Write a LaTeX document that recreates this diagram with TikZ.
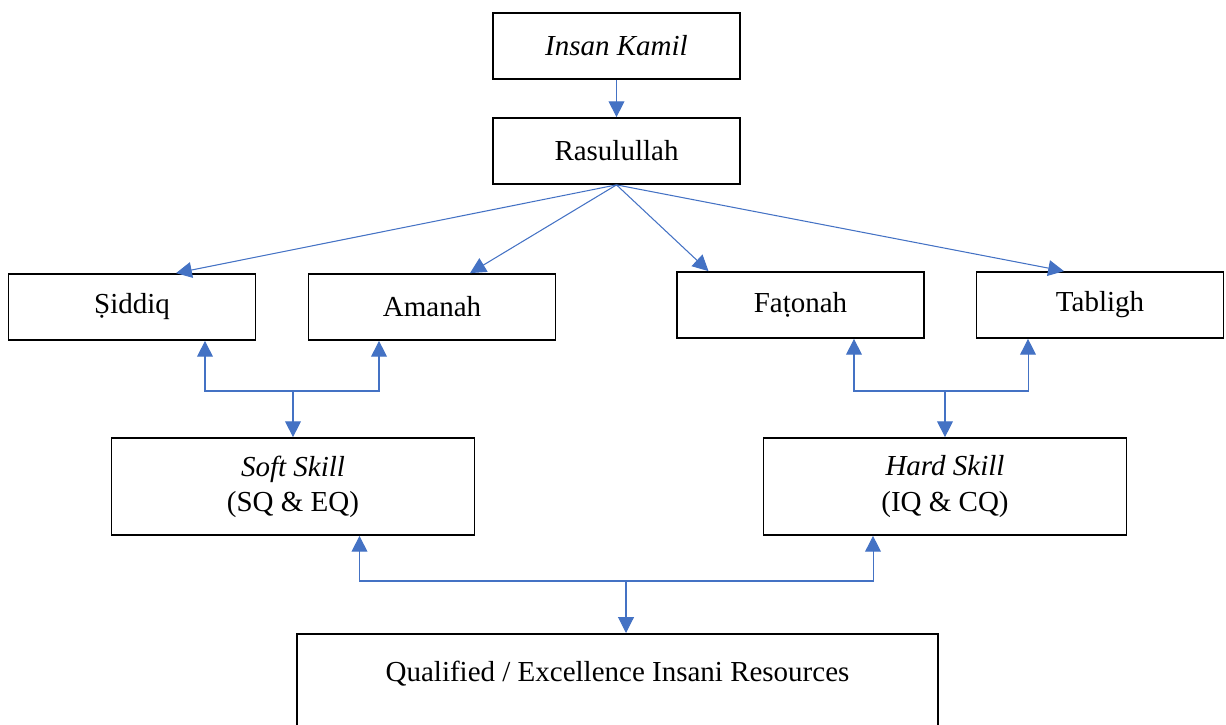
\documentclass[tikz,border=0pt]{standalone}
\usepackage{fontspec}
\setmainfont{Liberation Serif}
\usetikzlibrary{arrows.meta}
\definecolor{linkblue}{RGB}{68,114,196}

\begin{document}
\begin{tikzpicture}[x=0.02cm,y=-0.02cm,
        box/.style={draw,line width=1pt,align=center,font=\fontsize{16.5}{20}\selectfont},
        small/.style={box,minimum width=4.94cm,minimum height=1.32cm},
        skill/.style={box,minimum width=7.26cm,minimum height=1.94cm},
        link/.style={draw=linkblue,line width=0.6pt,-{Triangle[length=9pt,width=9pt]}},
        twolink/.style={draw=linkblue,line width=0.6pt,{Triangle[length=9pt,width=9pt]}-{Triangle[length=9pt,width=9pt]}}]
    \useasboundingbox (0,0) rectangle (1226,724);

    \node[small] (ik) at (616.5,46) {\textit{Insan Kamil}};
    \node[small] (rasul) at (616.5,151) {Rasulullah};
    \node[small] (sid) at (132,307) {Ṣiddiq};
    \node[small] (ama) at (432,307) {Amanah};
    \node[small] (fat) at (800.5,305) {Faṭonah};
    \node[small] (tab) at (1100,305) {Tabligh};
    \node[skill] (soft) at (293,486.5) {\textit{Soft Skill}\\(SQ \& EQ)};
    \node[skill] (hard) at (945,486.5) {\textit{Hard Skill}\\(IQ \& CQ)};
    \node[box,anchor=north,minimum width=12.82cm,text height=11.5pt,text depth=2cm,inner ysep=15.7pt] (qir) at (617.5,633) {Qualified / Excellence Insani Resources};

    \coordinate (sj) at (293,391);
    \coordinate (hj) at (945,391);
    \coordinate (bj) at (626,581);

    \draw[link] (ik) -- (rasul);
    \draw[link] (rasul.south) -- ([xshift=0.88cm]sid.north);
    \draw[link] (rasul.south) -- ([xshift=0.76cm]ama.north);
    \draw[link] (rasul.south) -- ([xshift=-1.84cm]fat.north);
    \draw[link] (rasul.south) -- ([xshift=-0.72cm]tab.north);

    \draw[twolink] ([xshift=1.46cm]sid.south) |- (sj) -| ([xshift=-1.06cm]ama.south);
    \draw[link] (sj) -- (soft);
    \draw[twolink] ([xshift=1.07cm]fat.south) |- (hj) -| ([xshift=-1.44cm]tab.south);
    \draw[link] (hj) -- (hard);
    \draw[twolink] ([xshift=1.33cm]soft.south) |- (bj) -| ([xshift=-1.44cm]hard.south);
    \draw[link] (bj) -- (bj |- qir.north);
\end{tikzpicture}
\end{document}
